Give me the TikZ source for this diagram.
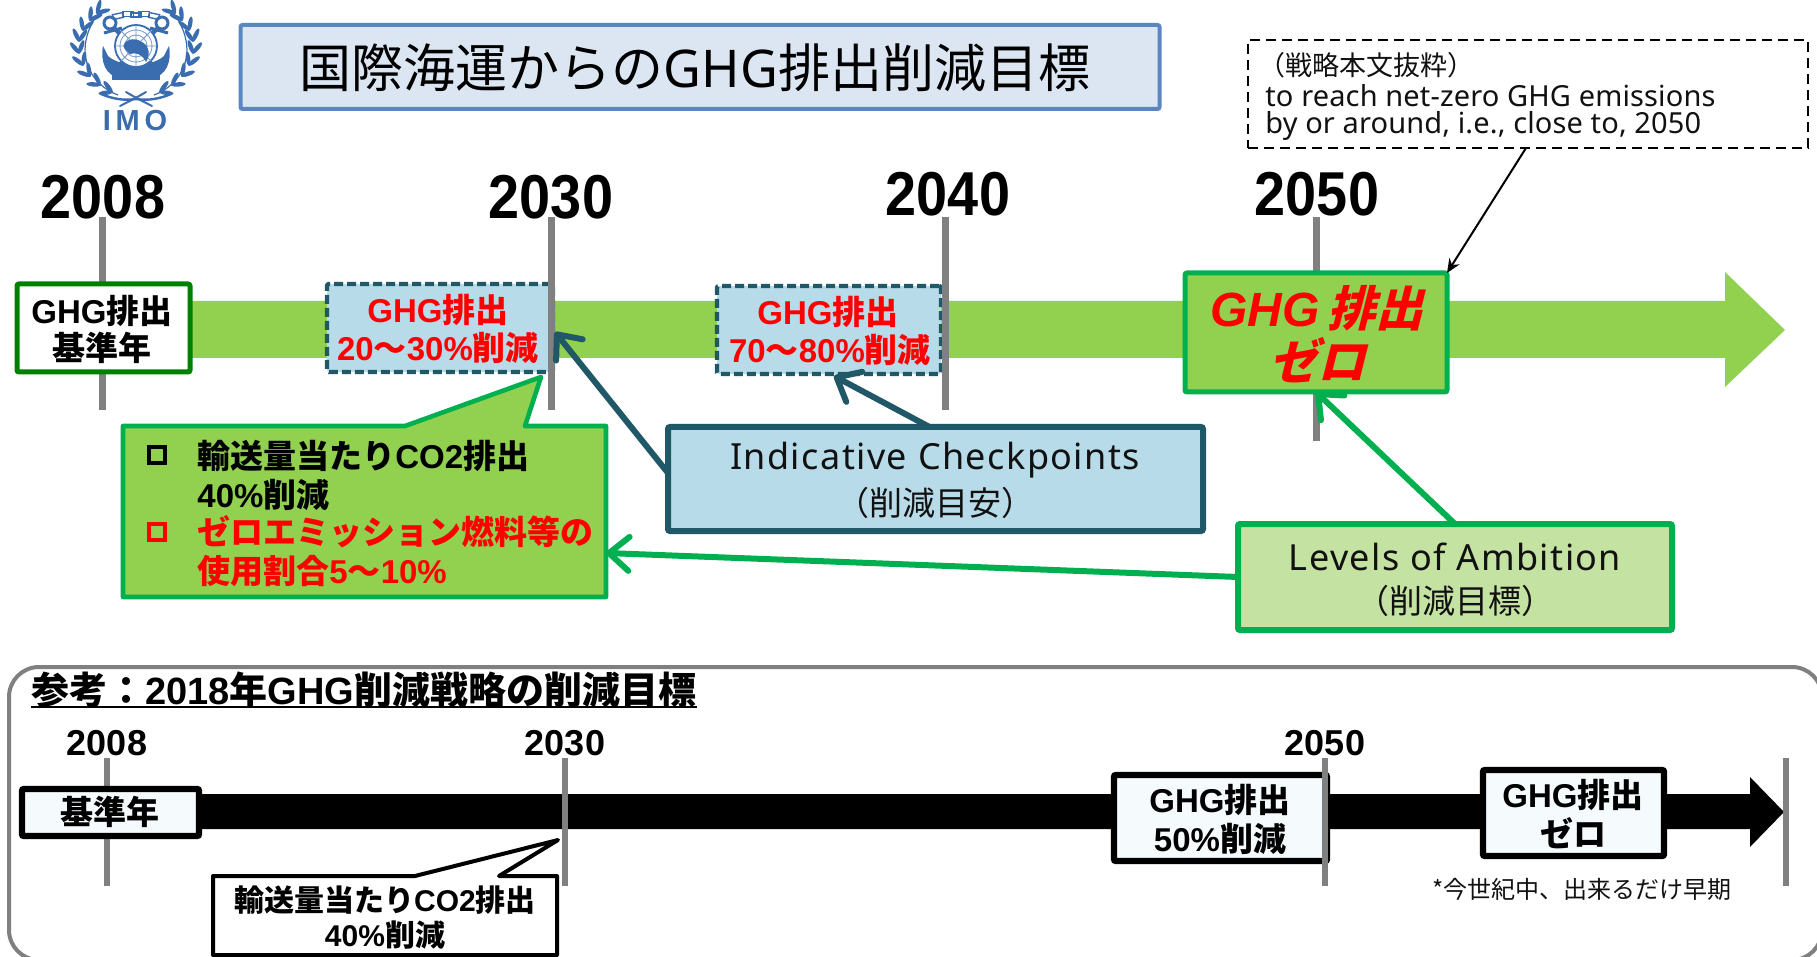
\documentclass[tikz,border=0pt]{standalone}
\usepackage{fontspec}
\usepackage{graphicx}
\usetikzlibrary{arrows.meta}
\newfontfamily\jbase{Noto Sans CJK JP}
\newfontfamily\jslant[FakeSlant=0.25]{Noto Sans CJK JP}
\newfontfamily\arialf{Liberation Sans}
\newfontfamily\latf[LetterSpace=4]{Noto Sans}
\newfontfamily\notef[LetterSpace=0.5]{Noto Sans}
\newcommand\jb{\jbase\bfseries}
\newcommand\jr{\jbase\mdseries}
\newcommand\ab{\arialf\bfseries}
\newcommand\fz[1]{\fontsize{#1}{#1}\selectfont}
\newcommand\en[1]{{\ab #1}}
\definecolor{bandg}{HTML}{92D050}
\definecolor{borderg}{HTML}{00B050}
\definecolor{darkg}{HTML}{008000}
\definecolor{teal}{HTML}{215868}
\definecolor{paleb}{HTML}{B7DBE8}
\definecolor{paleg}{HTML}{C4E2A2}
\definecolor{titleb}{HTML}{DCE6F2}
\definecolor{titleln}{HTML}{5B86C0}
\definecolor{tickg}{HTML}{808080}
\definecolor{imob}{HTML}{3A6DB0}
\definecolor{whiteb}{HTML}{F5FAFD}
\definecolor{txt}{HTML}{111111}
\tikzset{
  wh/.style n args={2}{minimum width=#1*0.5pt,minimum height=#2*0.5pt},
  boxn/.style={draw,inner sep=0pt,outer sep=0pt,rounded corners=1pt},
  tick/.style={draw=tickg,line width=3.5pt},
  tickb/.style={draw=tickg,line width=3pt},
  year/.style={font=\fz{31}\ab,inner sep=0pt},
  yearb/.style={font=\fz{18}\ab,inner sep=0pt},
  bold/.style={font=\fz{16.5}\jb,inner sep=0pt},
  boldred/.style={bold,text=red},
  dashb/.style={boxn,fill=paleb,draw=teal,line width=2.2pt,dash pattern=on 4.5pt off 2pt},
  blk/.style={boxn,draw=black,line width=3.2pt,fill=whiteb},
  tealarrow/.style={draw=teal,line width=3pt,-{Straight Barb[length=10pt,width=17pt,line width=3pt,round]}},
  greenarrow/.style={draw=borderg,line width=3pt,-{Straight Barb[length=10pt,width=17pt,line width=3pt,round]}},
  leaf/.style={fill=imob},
  lat/.style={font=\fz{18}\latf,inner sep=0pt,text=txt},
  jlat/.style={font=\fz{16.5}\jr,inner sep=0pt,text=txt},
  chk/.style={draw=black,line width=2pt,inner sep=0pt,outer sep=0pt,minimum size=8pt}
}
\newcommand\wreath{%
  \draw[imob,line width=0.6pt] (118,95) .. controls (90,85) and (70,50) .. (100,11);
  \foreach \x/\y/\a in {112/92/157,100/85/145,90/76/130,83/65/112,79/53/100,79/41/85,83/30/70,90/20/55,97/13/45}{
    \fill[leaf,shift={(\x,\y)},rotate=\a+30] (3.2pt,0) ellipse [x radius=3.6pt,y radius=1.1pt];
    \fill[leaf,shift={(\x,\y)},rotate=\a-30] (3.2pt,0) ellipse [x radius=3.6pt,y radius=1.1pt];
  }
  \draw[imob,line width=1.2pt,line cap=round] (101,94) .. controls (118,101) and (128,100) .. (136,99);
  \draw[imob,line width=1pt,line cap=round] (120,106) .. controls (128,102) and (136,98) .. (146,92);
  \draw[imob,line width=1.5pt] (110,23) circle [radius=3pt];
  \draw[imob,line width=2.2pt] (113,27) -- (160,72);
  \draw[imob,line width=1.5pt] (104,33) -- (122,28);
  \fill[imob] (103,46) .. controls (100,62) and (106,76) .. (120,78)
     .. controls (128,80) and (132,76) .. (136,72) -- (136,64)
     .. controls (125,66) and (112,60) .. (108,56) -- cycle;
  \foreach \x/\y/\r in {118/16/12,128/14/0}{
    \draw[imob,line width=0.7pt,shift={(\x,\y)},rotate=\r] (-2.6pt,-1.2pt) rectangle (2.6pt,1.2pt);
  }
}
\begin{document}
\begin{tikzpicture}[x=0.5pt,y=-0.5pt]
\useasboundingbox (0,0) rectangle (1817,957);

% ---- logo
\wreath
\begin{scope}[cm={-1,0,0,1,(136pt,0)}]
\wreath
\end{scope}
\draw[imob,line width=0.7pt] (131,13) rectangle (141,17);
\fill[imob] (112,72) rectangle (160,80);
\fill[white] (136,46) circle [radius=21];
\draw[imob,line width=0.9pt] (136,46) circle [radius=21];
\draw[imob!70,line width=0.4pt] (136,46) circle [radius=16] (136,46) circle [radius=11] (136,46) circle [radius=6]
  (115,46) -- (157,46) (136,25) -- (136,67) (121,31) -- (151,61) (151,31) -- (121,61);
\fill[imob] (124,44) .. controls (128,38) and (136,38) .. (142,42) .. controls (150,46) and (150,56) .. (146,62)
  .. controls (142,54) and (136,52) .. (130,54) .. controls (126,50) and (122,48) .. (124,44) -- cycle;
\node[font=\fz{14.5}\ab,text=imob,inner sep=0pt] (imotxt) at (135,121) {I\,M\,O};

% ---- title
\node[boxn,wh={919}{84},fill=titleb,draw=titleln,line width=2pt] (title) at (700,67) {};
\node[font=\fz{26}\jr,inner sep=0pt] (titletxt) at (695,68) {国際海運からの{\notef GHG}排出削減目標};

% ---- quote
\node[boxn,rounded corners=0pt,wh={560}{108},draw=black,line width=1pt,dash pattern=on 5pt off 3pt] (quote) at (1528,94) {};
\node[anchor=west,font=\fz{13.5}\jr,inner sep=0pt,text=txt] (q1) at (1258,65) {（戦略本文抜粋）};
\node[anchor=west,font=\fz{14.5}\notef,inner sep=0pt,text=txt] (q2) at (1265,96) {to reach net-zero GHG emissions};
\node[anchor=west,font=\fz{14.5}\notef,inner sep=0pt,text=txt] (q3) at (1265,126) {by or around, i.e., close to, 2050};

% ---- years
\node[year] (y08) at (103,197) {\scalebox{0.9}[1]{2008}};
\node[year] (y30) at (551,197) {\scalebox{0.9}[1]{2030}};
\node[year] (y40) at (948,194) {\scalebox{0.9}[1]{2040}};
\node[year] (y50) at (1317,194) {\scalebox{0.9}[1]{2050}};

% ---- band
\fill[bandg] (192,301) -- (1725,301) -- (1725,272) -- (1785,330) -- (1725,387) -- (1725,358) -- (192,358) -- cycle;

% ---- ticks under boxes
\coordinate (t08a) at (102,217); \coordinate (t08b) at (102,410);
\coordinate (t50a) at (1316,217); \coordinate (t50b) at (1316,441);
\draw[tick] (t08a) -- (t08b);
\draw[tick] (t50a) -- (t50b);

% ---- top boxes
\node[boxn,wh={173}{88},fill=white,draw=darkg,line width=2.5pt] (base) at (103.5,328) {};
\node[bold] (baset1) at (102,311) {\en{GHG}排出};
\node[bold] (baset2) at (102,348) {基準年};

\node[dashb,wh={226}{88}] (b30) at (440,328) {};
\node[boldred] (b30t1) at (438,310) {\en{GHG}排出};
\node[boldred] (b30t2) at (438,348) {\en{20}～\en{30\%}削減};

\node[dashb,wh={224}{88}] (b40) at (829,330) {};
\node[boldred] (b40t1) at (828,312) {\en{GHG}排出};
\node[boldred] (b40t2) at (830,350) {\en{70}～\en{80\%}削減};

\coordinate (t30a) at (551,217); \coordinate (t30b) at (551,410);
\coordinate (t40a) at (945,217); \coordinate (t40b) at (945,410);
\draw[tick] (t30a) -- (t30b);
\draw[tick] (t40a) -- (t40b);

\node[boxn,wh={262}{119},fill=bandg,draw=borderg,line width=2.5pt] (b50) at (1316,332.5) {};
\node[font=\fz{24}\arialf\bfseries\itshape,text=red,inner sep=0pt] (b50t1) at (1317,308) {GHG\,{\jslant\bfseries\upshape 排出}};
\node[font=\fz{24}\jslant\bfseries,text=red,inner sep=0pt] (b50t2) at (1317,360) {ゼロ};

% ---- green callout
\coordinate (ca) at (123,426); \coordinate (cb) at (405,426); \coordinate (ctip) at (541,377);
\coordinate (cc) at (525,426); \coordinate (cd) at (606,426); \coordinate (ce) at (606,597); \coordinate (cf) at (123,597);
\filldraw[fill=bandg,draw=borderg,line width=2.3pt,line join=round] (ca) -- (cb) -- (ctip) -- (cc) -- (cd) -- (ce) -- (cf) -- cycle;
\node[chk,draw=black] (chk1) at (157,455) {};
\node[chk,draw=red] (chk2) at (157,532) {};
\node[bold,anchor=west] (c1) at (197,456) {輸送量当たり\en{CO2}排出};
\node[bold,anchor=west] (c2) at (197,495) {\en{40\%}削減};
\node[bold,anchor=west,text=red] (c3) at (197,532) {ゼロエミッション燃料等の};
\node[bold,anchor=west,text=red] (c4) at (197,571) {使用割合\en{5}～\en{10\%}};

% ---- checkpoints
\node[boxn,wh={535}{104},fill=paleb,draw=teal,line width=3pt] (chk) at (935.5,479) {};
\node[lat] (chkt1) at (935,460) {Indicative Checkpoints};
\node[jlat] (chkt2) at (935,503) {（削減目安）};
\draw[tealarrow] (chk.west) ++(0,-6) coordinate (a1s) -- (555,332) coordinate (a1e);
\draw[tealarrow] (chk.north) ++(-6,0) coordinate (a2s) -- (834,376) coordinate (a2e);

% ---- levels
\node[boxn,wh={434}{106},fill=paleg,draw=borderg,line width=3pt] (lev) at (1455,577) {};
\node[lat] (levt1) at (1455,557) {Levels of Ambition};
\node[jlat] (levt2) at (1455,601) {（削減目標）};
\draw[greenarrow] (lev.north) -- (b50.south);
\draw[greenarrow] (lev.west) -- (ce |- 0,553) coordinate (a4e);

% ---- quote arrow
\draw[black,line width=1pt,-{Stealth[length=7pt,width=6pt]}] (1526,148) coordinate (q4s) -- (b50.north east);

% ---- lower panel
\draw[tickg,line width=2pt,rounded corners=15pt] (9,960) -- (9,667) -- (1822,667) -- (1822,960) -- cycle;
\node[anchor=west,font=\fz{19}\jb,inner sep=0pt] (h) at (31,690) {参考：\en{2018}年\en{GHG}削減戦略の削減目標};
\draw[black,line width=1pt] (h.west |- 0,707) coordinate (ua) -- (h.east |- 0,707) coordinate (ub);

\node[yearb] (ly08) at (107,743) {2008};
\node[yearb] (ly30) at (565,743) {2030};
\node[yearb] (ly50) at (1325,743) {2050};

\fill[black] (200,794) -- (1750,794) -- (1750,777) -- (1784,812) -- (1750,847) -- (1750,829) -- (200,829) -- cycle;

\coordinate (l08a) at (107,758); \coordinate (l08b) at (107,886);
\draw[tickb] (l08a) -- (l08b);

\node[blk,wh={177}{47}] (lbase) at (110.5,812.5) {};
\node[bold] (lbaset) at (110,812) {基準年};

\node[blk,wh={213}{86}] (l50) at (1220.5,818) {};
\node[bold] (l50t1) at (1220,800) {\en{GHG}排出};
\node[bold] (l50t2) at (1220,839) {\en{50\%}削減};

\node[blk,wh={181}{86}] (l00) at (1573.5,813) {};
\node[bold] (l00t1) at (1573,795) {\en{GHG}排出};
\node[bold] (l00t2) at (1573,833) {ゼロ};

\coordinate (l30a) at (565,758); \coordinate (l30b) at (565,886);
\coordinate (l50a) at (1325,758); \coordinate (l50b) at (1325,886);
\coordinate (lea) at (1786,758); \coordinate (leb) at (1786,886);
\draw[tickb] (l30a) -- (l30b);
\draw[tickb] (l50a) -- (l50b);
\draw[tickb] (lea) -- (leb);

\coordinate (da) at (213,876); \coordinate (db) at (415,876); \coordinate (dtip) at (558,840);
\coordinate (dc) at (499,876); \coordinate (dd) at (557,876); \coordinate (de) at (557,955); \coordinate (df) at (213,955);
\filldraw[fill=white,draw=black,line width=2pt,line join=round] (da) -- (db) -- (dtip) -- (dc) -- (dd) -- (de) -- (df) -- cycle;
\node[font=\fz{15}\jb,inner sep=0pt] (d1) at (385,900) {輸送量当たり\en{CO2}排出};
\node[font=\fz{15}\jb,inner sep=0pt] (d2) at (385,935) {\en{40\%}削減};

\node[anchor=west,font=\fz{12}\jr,inner sep=0pt,text=txt] (note) at (1432,889) {*今世紀中、出来るだけ早期};
\end{tikzpicture}
\end{document}
